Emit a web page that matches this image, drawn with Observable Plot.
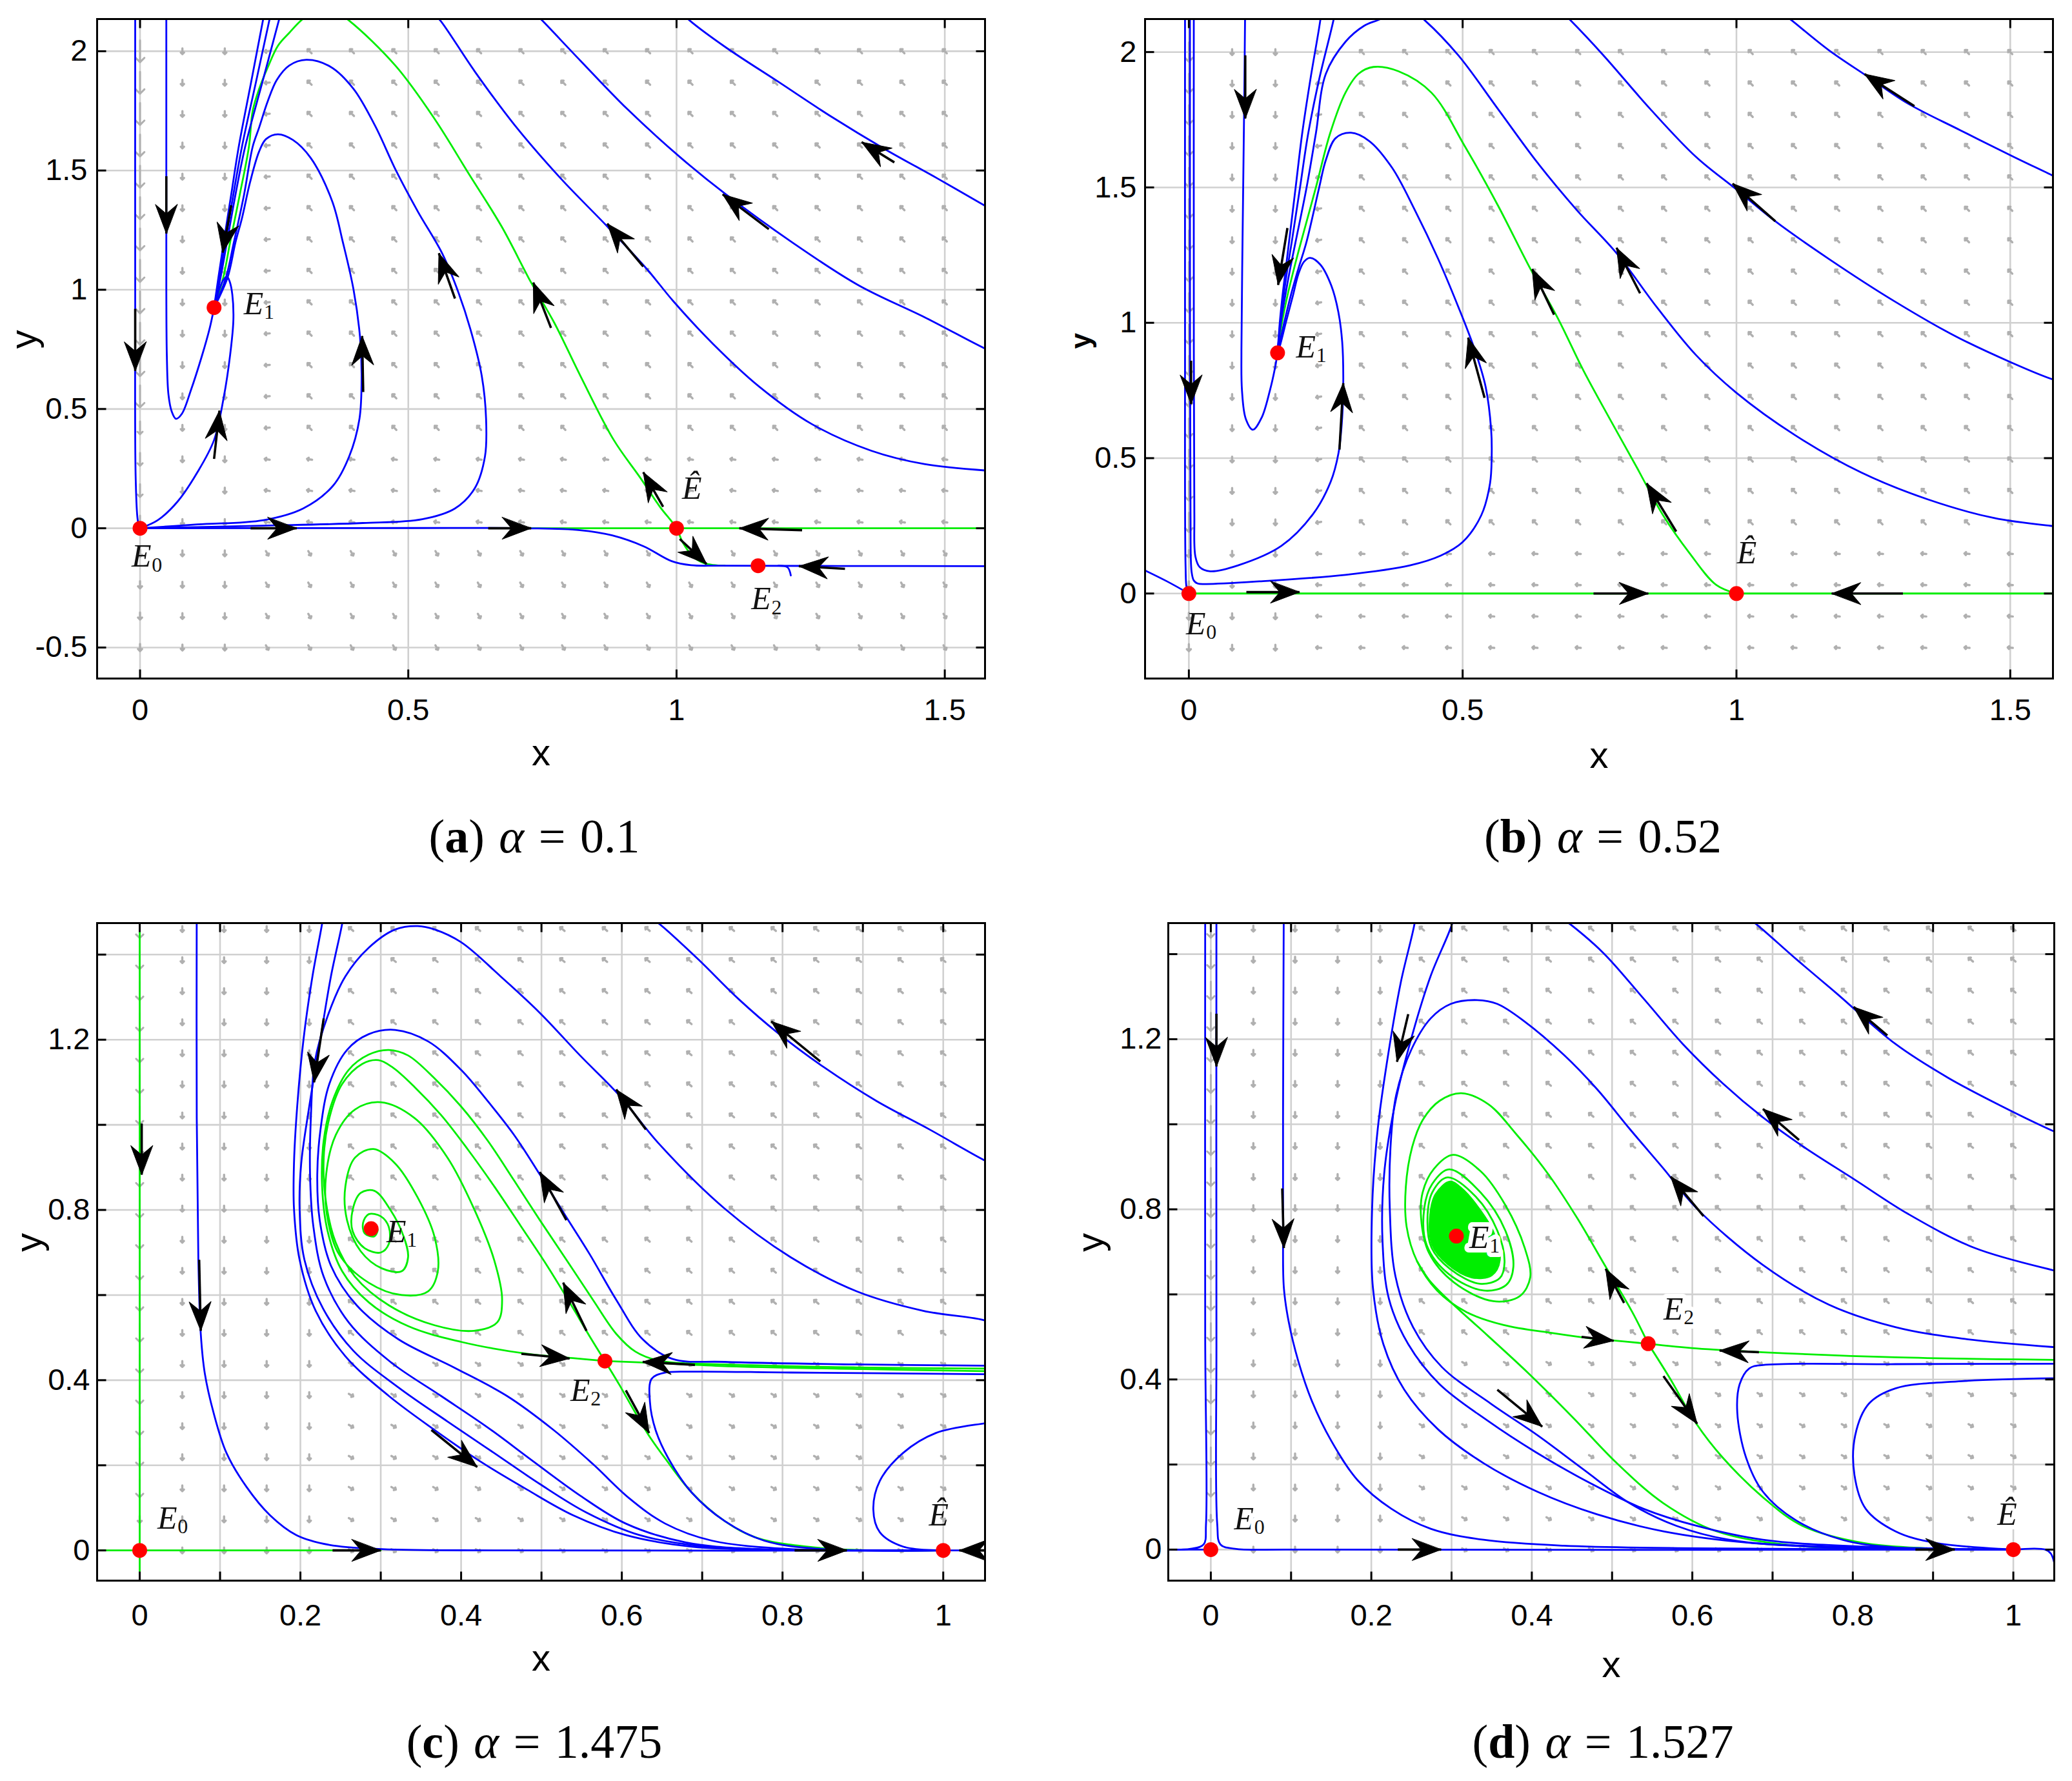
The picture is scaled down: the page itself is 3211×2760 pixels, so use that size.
<!DOCTYPE html>
<html><head><meta charset="utf-8">
<script src="https://cdn.jsdelivr.net/npm/d3@7"></script>
<script src="https://cdn.jsdelivr.net/npm/@observablehq/plot@0.6"></script>
<style>
html,body{margin:0;padding:0;background:#fff}
body{width:3211px;height:2760px;position:relative;overflow:hidden}
.panel{position:absolute}
.cap{position:absolute;width:1000px;text-align:center;font-family:"Liberation Serif","Times New Roman",serif;font-size:74px;line-height:80px;color:#000;white-space:nowrap;word-spacing:4px}
</style></head><body>
<div id="pa" class="panel" style="left:0;top:0"></div>
<div id="pb" class="panel" style="left:1605px;top:0"></div>
<div id="pc" class="panel" style="left:0;top:1380px"></div>
<div id="pd" class="panel" style="left:1605px;top:1380px"></div>
<div class="cap" style="left:328px;top:1256px">(<b>a</b>) <i>α</i> = 0.1</div>
<div class="cap" style="left:1984px;top:1256px">(<b>b</b>) <i>α</i> = 0.52</div>
<div class="cap" style="left:328px;top:2659px">(<b>c</b>) <i>α</i> = 1.475</div>
<div class="cap" style="left:1984px;top:2659px">(<b>d</b>) <i>α</i> = 1.527</div>
<script>
// ---------- Panel (a): alpha = 0.1 ----------
const A_xTicks = [0, 0.5, 1, 1.5];
const A_yTicks = [-0.5, 0, 0.5, 1, 1.5, 2];
const A_fieldX = [0,0.079,0.158,0.237,0.316,0.395,0.474,0.553,0.632,0.711,0.789,0.868,0.947,1.026,1.105,1.184,1.263,1.342,1.421,1.5];
const A_fieldY = [-0.5,-0.368,-0.237,-0.105,0.026,0.158,0.289,0.421,0.553,0.684,0.816,0.947,1.079,1.211,1.342,1.474,1.605,1.737,1.868,2.0];
// zones: [x0,x1,y0,y1,screen angle (deg), glyph length]
const A_zones = [[-1,0.04,0.55,9,180,34],[-1,0.04,0,0.55,180,20],[-1,0.04,-9,0,180,11],[-1,0.2,-9,9,180,9],[-9,9,-9,0,150,8],[-9,9,0,0.35,-80,8],[-9,0.27,-9,9,-95,8],[-9,9,-9,9,-45,9]];
const A_blue = [
  [[-0.009,2.2],[-0.009,1.0],[-0.008,0.2],[-0.004,0.03],[0,0]],
  [[0.049,2.2],[0.049,1.5],[0.049,1.0],[0.05,0.72],[0.053,0.56],[0.059,0.49],[0.067,0.459],[0.078,0.48],[0.095,0.58],[0.115,0.72],[0.13,0.84],[0.138,0.925]],
  [[0,0],[0.033,0.034],[0.070,0.112],[0.107,0.235],[0.138,0.370],[0.156,0.549],[0.168,0.728],[0.174,0.874],[0.172,0.98],[0.167,1.035],[0.162,1.055],[0.155,1.04],[0.146,0.99],[0.138,0.925]],
  [[0.235,2.2],[0.230,2.14],[0.207,1.87],[0.184,1.6],[0.170,1.4],[0.156,1.2],[0.146,1.05],[0.138,0.925]],
  [[0.248,2.2],[0.242,2.14],[0.216,1.87],[0.190,1.6],[0.174,1.4],[0.159,1.2],[0.148,1.05],[0.138,0.925]],
  [[0.267,2.2],[0.260,2.14],[0.228,1.87],[0.196,1.6],[0.178,1.4],[0.162,1.2],[0.150,1.05],[0.138,0.925]],
  [[0,0],[0.107,0.016],[0.230,0.034],[0.304,0.083],[0.360,0.179],[0.390,0.302],[0.409,0.459],[0.413,0.638],[0.410,0.802],[0.398,1.0],[0.378,1.2],[0.358,1.372],[0.318,1.553],[0.285,1.628],[0.257,1.652],[0.235,1.632],[0.222,1.58],[0.205,1.45],[0.19,1.3],[0.178,1.2],[0.163,1.05],[0.138,0.925]],
  [[0,0],[0.230,0.011],[0.415,0.022],[0.526,0.038],[0.587,0.083],[0.624,0.168],[0.643,0.302],[0.645,0.459],[0.637,0.638],[0.618,0.817],[0.594,0.985],[0.563,1.153],[0.518,1.327],[0.477,1.5],[0.438,1.688],[0.398,1.842],[0.355,1.935],[0.310,1.964],[0.278,1.94],[0.255,1.88],[0.238,1.79],[0.222,1.68],[0.21,1.6],[0.194,1.4],[0.175,1.2],[0.16,1.05],[0.138,0.925]],
  [[0,0],[0.5,0.001],[0.72,0],[0.82,-0.008],[0.88,-0.03],[0.939,-0.076],[0.991,-0.138],[1.027,-0.155],[1.08,-0.157],[1.3,-0.158],[1.6,-0.159]],
  [[1.19,-0.157],[1.207,-0.164],[1.213,-0.198]],
  [[0.55,2.15],[0.560,2.128],[0.624,1.915],[0.698,1.691],[0.784,1.467],[0.871,1.265],[0.945,1.086],[0.994,0.952],[1.068,0.773],[1.154,0.594],[1.252,0.437],[1.363,0.325],[1.462,0.269],[1.578,0.242],[1.6,0.24]],
  [[0.74,2.15],[0.750,2.128],[0.821,1.960],[0.908,1.758],[1.006,1.557],[1.092,1.400],[1.216,1.198],[1.339,1.019],[1.462,0.885],[1.578,0.750],[1.6,0.73]],
  [[1.01,2.16],[1.025,2.128],[1.092,2.016],[1.191,1.870],[1.289,1.725],[1.388,1.590],[1.486,1.467],[1.578,1.348],[1.6,1.32]]
];
const A_green = [
  [[0.72,0],[1.6,0]],
  [[0.138,0.925],[0.155,1.05],[0.168,1.2],[0.186,1.4],[0.203,1.6],[0.21,1.75],[0.222,1.842],[0.238,1.932],[0.257,2.023],[0.278,2.077],[0.306,2.14],[0.348,2.19],[0.390,2.128],[0.477,1.937],[0.550,1.713],[0.612,1.489],[0.674,1.265],[0.729,1.030],[0.772,0.862],[0.821,0.638],[0.883,0.370],[0.932,0.213],[0.969,0.090],[1.0,0],[1.011,-0.057],[1.031,-0.119],[1.051,-0.146],[1.069,-0.154],[1.09,-0.157]]
];
const A_arrows = [
  [-0.009,0.92,-0.009,0.66],[0.049,1.476,0.049,1.236],[0.170,1.354,0.154,1.156],[0.138,0.291,0.148,0.493],
  [0.416,0.571,0.414,0.806],[0.587,0.963,0.557,1.153],[0.766,0.840,0.733,1.030],[0.975,0.090,0.938,0.235],
  [1.006,-0.045,1.056,-0.150],[0.206,0,0.292,0],[0.649,0,0.729,0],[1.234,-0.008,1.117,0],
  [1.314,-0.170,1.228,-0.159],[0.938,1.097,0.871,1.277],[1.172,1.254,1.086,1.400],[1.406,1.534,1.345,1.619]
];
const A_eq = [[0,0],[0.138,0.925],[1,0],[1.152,-0.157]];
const A_labels = [{t:"E",s:"1",x:0.22,y:0.94},{t:"E",s:"0",x:0.011,y:-0.118},{t:"Ê",s:"",x:1.037,y:0.168},{t:"E",s:"2",x:1.166,y:-0.297}];

// ---------- Panel (b): alpha = 0.52 ----------
const B_xTicks = [0, 0.5, 1, 1.5];
const B_yTicks = [0, 0.5, 1, 1.5, 2];
const B_fieldX = [0,0.079,0.158,0.237,0.316,0.395,0.474,0.553,0.632,0.711,0.789,0.868,0.947,1.026,1.105,1.184,1.263,1.342,1.421,1.5];
const B_fieldY = [-0.2,-0.084,0.032,0.147,0.263,0.379,0.495,0.611,0.726,0.842,0.958,1.074,1.189,1.305,1.421,1.537,1.653,1.768,1.884,2.0];
const B_zones = [[-1,0.04,0.15,9,180,30],[-1,0.04,-9,0.15,180,11],[-1,0.2,-9,9,180,9],[-9,9,-9,0.25,-85,8],[-9,0.27,-9,9,-100,8],[-9,9,-9,9,-45,9]];
const B_blue = [
  [[-0.085,0.09],[-0.04,0.045],[0,0]],
  [[-0.007,2.2],[-0.007,1.0],[-0.006,0.1],[-0.004,0.02],[0,0]],
  [[0.002,2.2],[0.002,1.2],[0.003,0.3],[0.005,0.08],[0.009,0.048],[0.016,0.037],[0.031,0.035],[0.129,0.045],[0.286,0.069],[0.404,0.104],[0.46,0.14],[0.50,0.19],[0.534,0.289],[0.550,0.407],[0.553,0.506],[0.552,0.605],[0.542,0.763],[0.522,0.901],[0.492,1.059],[0.455,1.237],[0.413,1.415],[0.371,1.573],[0.329,1.672],[0.296,1.702],[0.268,1.682],[0.25,1.6],[0.238,1.5],[0.215,1.3],[0.2,1.2],[0.186,1.1],[0.174,1.0],[0.162,0.889]],
  [[0.009,2.2],[0.009,1.2],[0.010,0.3],[0.012,0.136],[0.020,0.097],[0.039,0.082],[0.090,0.104],[0.169,0.176],[0.227,0.294],[0.259,0.413],[0.273,0.516],[0.280,0.65],[0.282,0.80],[0.280,0.93],[0.273,1.040],[0.260,1.138],[0.240,1.215],[0.221,1.240],[0.210,1.225],[0.200,1.18],[0.190,1.1],[0.177,1.0],[0.167,0.92],[0.162,0.889]],
  [[0.103,2.2],[0.101,1.8],[0.098,1.3],[0.096,0.9],[0.097,0.75],[0.104,0.645],[0.117,0.605],[0.133,0.65],[0.148,0.75],[0.157,0.83],[0.162,0.889]],
  [[0.245,2.2],[0.240,2.117],[0.222,1.9],[0.207,1.7],[0.195,1.5],[0.183,1.3],[0.177,1.2],[0.171,1.1],[0.166,1.0],[0.162,0.889]],
  [[0.272,2.2],[0.264,2.117],[0.238,1.9],[0.218,1.7],[0.203,1.5],[0.188,1.3],[0.180,1.2],[0.173,1.1],[0.167,1.0],[0.162,0.889]],
  [[0.37,2.14],[0.345,2.118],[0.320,2.097],[0.286,2.038],[0.250,1.919],[0.232,1.7],[0.215,1.5],[0.195,1.3],[0.185,1.2],[0.176,1.1],[0.168,1.0],[0.162,0.889]],
  [[0.41,2.15],[0.431,2.117],[0.492,1.988],[0.564,1.791],[0.636,1.593],[0.709,1.415],[0.781,1.257],[0.854,1.059],[0.926,0.881],[0.999,0.743],[1.107,0.585],[1.228,0.447],[1.349,0.348],[1.470,0.279],[1.578,0.249],[1.6,0.245]],
  [[0.68,2.15],[0.697,2.117],[0.757,1.988],[0.842,1.791],[0.926,1.613],[0.999,1.494],[1.071,1.375],[1.168,1.237],[1.289,1.079],[1.409,0.941],[1.576,0.792],[1.6,0.78]],
  [[1.08,2.15],[1.101,2.117],[1.168,2.008],[1.240,1.909],[1.313,1.810],[1.409,1.711],[1.506,1.613],[1.578,1.543],[1.6,1.52]]
];
const B_green = [
  [[0,0],[1.6,0]],
  [[0.162,0.889],[0.170,1.0],[0.180,1.1],[0.192,1.2],[0.205,1.3],[0.232,1.5],[0.258,1.7],[0.286,1.85],[0.310,1.92],[0.337,1.945],[0.383,1.929],[0.443,1.850],[0.504,1.652],[0.564,1.435],[0.624,1.198],[0.673,1.020],[0.721,0.822],[0.769,0.644],[0.818,0.466],[0.866,0.289],[0.914,0.150],[0.963,0.032],[1.0,0]]
];
const B_arrows = [
  [0.004,0.86,0.004,0.70],[0.103,1.988,0.103,1.755],[0.18,1.35,0.163,1.14],[0.275,0.532,0.282,0.777],
  [0.540,0.723,0.510,0.945],[0.667,1.030,0.627,1.198],[0.890,0.229,0.836,0.407],[0.105,0.005,0.202,0.005],
  [0.739,0,0.839,0],[1.304,0,1.174,0],[0.824,1.109,0.781,1.277],[1.071,1.375,0.993,1.514],[1.325,1.800,1.234,1.919]
];
const B_eq = [[0,0],[0.162,0.889],[1,0]];
const B_labels = [{t:"E",s:"1",x:0.222,y:0.911},{t:"E",s:"0",x:0.021,y:-0.112},{t:"Ê",s:"",x:1.027,y:0.15}];

// ---------- Panel (c): alpha = 1.475 ----------
const C_xTicks = [0, 0.2, 0.4, 0.6, 0.8, 1];
const C_yTicks = [0, 0.4, 0.8, 1.2];
const C_gridX = [0,0.1,0.2,0.3,0.4,0.5,0.6,0.7,0.8,0.9,1.0];
const C_gridY = [0,0.2,0.4,0.6,0.8,1.0,1.2,1.4];
const C_fieldX = [0,0.053,0.105,0.158,0.211,0.263,0.316,0.368,0.421,0.474,0.526,0.579,0.632,0.684,0.737,0.789,0.842,0.895,0.947,1.0];
const C_fieldY = [0,0.073,0.146,0.219,0.292,0.365,0.438,0.511,0.584,0.657,0.730,0.803,0.876,0.949,1.022,1.095,1.168,1.241,1.314,1.387,1.46];
const C_zones = [[-1,0.03,0.1,9,180,28],[-1,0.03,-9,0.1,180,11],[-1,0.23,-9,9,180,9],[-9,9,-9,0.45,120,8],[-9,9,-9,9,-50,9]];
const C_blue = [
  [[0.071,1.55],[0.071,1.016],[0.073,0.683],[0.076,0.509],[0.081,0.416],[0.092,0.323],[0.108,0.229],[0.133,0.149],[0.162,0.083],[0.195,0.036],[0.236,0.013],[0.301,0.003],[0.45,0],[1.06,0]],
  [[0.229,1.5],[0.227,1.473],[0.215,1.349],[0.204,1.203],[0.196,1.043],[0.192,0.909],[0.192,0.803],[0.199,0.683],[0.219,0.563],[0.256,0.456],[0.310,0.363],[0.367,0.283],[0.424,0.209],[0.482,0.143],[0.539,0.083],[0.605,0.036],[0.687,0.009],[0.810,0.001],[1.0,0]],
  [[0.254,1.5],[0.252,1.473],[0.238,1.349],[0.225,1.203],[0.211,1.043],[0.201,0.909],[0.199,0.803],[0.205,0.683],[0.228,0.569],[0.266,0.469],[0.322,0.383],[0.383,0.303],[0.441,0.229],[0.498,0.156],[0.556,0.089],[0.622,0.036],[0.704,0.009],[0.827,0.001],[1.0,0]],
  [[1.06,0.53],[1.052,0.54],[0.975,0.563],[0.892,0.609],[0.810,0.689],[0.728,0.803],[0.646,0.956],[0.597,1.069],[0.548,1.163],[0.498,1.263],[0.449,1.349],[0.400,1.429],[0.367,1.459],[0.346,1.467],[0.318,1.459],[0.285,1.416],[0.256,1.349],[0.234,1.256],[0.218,1.149],[0.213,1.016],[0.212,0.883],[0.216,0.763],[0.229,0.643],[0.26,0.536],[0.312,0.443],[0.375,0.363],[0.433,0.289],[0.490,0.209],[0.548,0.129],[0.605,0.063],[0.679,0.019],[0.769,0.003],[0.9,0],[1.0,0]],
  [[1.06,0.434],[0.892,0.437],[0.728,0.443],[0.663,0.450],[0.626,0.496],[0.593,0.589],[0.560,0.696],[0.531,0.783],[0.498,0.883],[0.466,0.976],[0.433,1.056],[0.400,1.129],[0.359,1.196],[0.318,1.223],[0.285,1.213],[0.258,1.176],[0.236,1.096],[0.225,0.989],[0.221,0.883],[0.224,0.776],[0.238,0.669],[0.27,0.576],[0.322,0.496],[0.392,0.429],[0.457,0.363],[0.515,0.283],[0.564,0.203],[0.609,0.123],[0.654,0.063],[0.712,0.023],[0.810,0.003],[0.9,0],[1.0,0]],
  [[1.06,0.414],[0.810,0.418],[0.687,0.420],[0.652,0.417],[0.637,0.403],[0.635,0.349],[0.642,0.283],[0.658,0.216],[0.687,0.136],[0.728,0.069],[0.777,0.023],[0.851,0.003],[1.0,0]],
  [[1.06,0.302],[1.052,0.299],[0.991,0.276],[0.950,0.229],[0.921,0.163],[0.913,0.096],[0.921,0.043],[0.950,0.009],[1.0,0]],
  [[0.64,1.48],[0.646,1.473],[0.695,1.389],[0.745,1.296],[0.794,1.216],[0.851,1.136],[0.917,1.056],[0.983,0.989],[1.052,0.916],[1.06,0.91]]
];
const C_green = [
  [[0,-0.1],[0,1.6]],
  [[-0.06,0],[0.3,0]],
  [[1.06,0.421],[0.9,0.426],[0.728,0.433],[0.646,0.440],[0.579,0.445]],
  [[1.06,0.427],[0.892,0.430],[0.728,0.437],[0.646,0.446],[0.617,0.467],[0.593,0.509],[0.564,0.589],[0.531,0.683],[0.498,0.776],[0.466,0.869],[0.433,0.963],[0.400,1.043],[0.367,1.109],[0.334,1.163],[0.310,1.176],[0.285,1.165],[0.260,1.129],[0.240,1.056],[0.229,0.963],[0.227,0.856],[0.234,0.749],[0.252,0.656],[0.285,0.583],[0.334,0.527],[0.400,0.490],[0.482,0.462],[0.539,0.452],[0.579,0.445]],
  [[0.579,0.445],[0.560,0.503],[0.535,0.583],[0.507,0.669],[0.474,0.763],[0.441,0.856],[0.408,0.943],[0.375,1.023],[0.342,1.089],[0.314,1.136],[0.297,1.152],[0.277,1.143],[0.252,1.096],[0.236,1.016],[0.229,0.923],[0.232,0.816],[0.244,0.723],[0.268,0.643],[0.310,0.576],[0.367,0.529],[0.416,0.516],[0.445,0.536],[0.451,0.589],[0.441,0.683],[0.416,0.803],[0.383,0.923],[0.342,1.016],[0.300,1.053],[0.268,1.036],[0.244,0.976],[0.232,0.883],[0.233,0.789],[0.248,0.696],[0.285,0.629],[0.326,0.600],[0.359,0.609],[0.371,0.656],[0.367,0.736],[0.346,0.829],[0.318,0.909],[0.291,0.943],[0.268,0.923],[0.256,0.856],[0.258,0.776],[0.275,0.703],[0.301,0.663],[0.326,0.656],[0.334,0.689],[0.328,0.74],[0.312,0.80],[0.292,0.845],[0.275,0.84],[0.265,0.80],[0.265,0.75],[0.28,0.71],[0.30,0.70],[0.31,0.72],[0.31,0.76],[0.30,0.785],[0.285,0.79],[0.278,0.77],[0.28,0.745],[0.292,0.738],[0.296,0.755],[0.289,0.756]],
  [[0.579,0.445],[0.597,0.389],[0.613,0.336],[0.634,0.269],[0.654,0.216],[0.687,0.136],[0.728,0.069],[0.769,0.029],[0.851,0.005],[0.933,0],[1.0,0]]
];
const C_arrows = [
  [0.0025,1.003,0.0025,0.883],[0.074,0.683,0.076,0.516],[0.229,1.25,0.217,1.10],[0.531,0.776,0.498,0.889],
  [0.630,0.989,0.593,1.083],[0.847,1.149,0.786,1.243],[0.363,0.283,0.420,0.196],[0.475,0.462,0.535,0.451],
  [0.691,0.436,0.626,0.443],[0.556,0.516,0.527,0.629],[0.605,0.376,0.634,0.276],[0.240,0,0.300,0],
  [0.815,0,0.880,0],[1.075,0,1.02,0]
];
const C_eq = [[0,0],[0.288,0.756],[0.579,0.445],[1,0]];
const C_labels = [{t:"E",s:"0",x:0.040,y:0.076},{t:"E",s:"1",x:0.325,y:0.749},{t:"E",s:"2",x:0.554,y:0.376},{t:"Ê",s:"",x:1.0,y:0.083}];

// ---------- Panel (d): alpha = 1.527 ----------
const D_xTicks = [0, 0.2, 0.4, 0.6, 0.8, 1];
const D_yTicks = [0, 0.4, 0.8, 1.2];
const D_gridX = [0,0.1,0.2,0.3,0.4,0.5,0.6,0.7,0.8,0.9,1.0];
const D_gridY = [0,0.2,0.4,0.6,0.8,1.0,1.2,1.4];
const D_fieldX = [0,0.053,0.105,0.158,0.211,0.263,0.316,0.368,0.421,0.474,0.526,0.579,0.632,0.684,0.737,0.789,0.842,0.895,0.947,1.0];
const D_fieldY = [0,0.073,0.146,0.219,0.292,0.365,0.438,0.511,0.584,0.657,0.730,0.803,0.876,0.949,1.022,1.095,1.168,1.241,1.314,1.387,1.46];
const D_zones = [[-1,0.03,0.1,9,180,28],[-1,0.03,-9,0.1,180,11],[-1,0.23,-9,9,180,9],[-9,9,-9,0.45,120,8],[-9,9,-9,9,-50,9]];
const D_blue = [
  [[-0.007,1.55],[-0.007,0.5],[-0.006,0.06],[-0.009,0.012],[-0.025,0.002],[-0.06,0]],
  [[0.007,1.55],[0.007,0.5],[0.008,0.06],[0.012,0.012],[0.03,0.002],[0.1,0],[1.0,0]],
  [[0.091,1.55],[0.090,1.016],[0.090,0.749],[0.091,0.616],[0.097,0.536],[0.109,0.443],[0.126,0.349],[0.150,0.256],[0.183,0.163],[0.225,0.096],[0.274,0.049],[0.340,0.023],[0.440,0.009],[0.605,0.003],[1.0,0]],
  [[0.257,1.52],[0.254,1.473],[0.237,1.336],[0.222,1.176],[0.208,0.989],[0.201,0.803],[0.202,0.616],[0.215,0.483],[0.241,0.376],[0.283,0.283],[0.340,0.203],[0.407,0.136],[0.481,0.083],[0.564,0.043],[0.671,0.016],[0.812,0.005],[1.0,0]],
  [[0.306,1.52],[0.301,1.473],[0.274,1.349],[0.250,1.203],[0.229,1.043],[0.216,0.883],[0.214,0.723],[0.222,0.589],[0.246,0.483],[0.285,0.389],[0.345,0.303],[0.405,0.229],[0.473,0.156],[0.539,0.096],[0.605,0.056],[0.688,0.023],[0.812,0.007],[1.0,0]],
  [[1.06,0.475],[1.051,0.476],[0.936,0.496],[0.853,0.523],[0.770,0.576],[0.688,0.669],[0.605,0.803],[0.564,0.896],[0.522,0.989],[0.481,1.083],[0.440,1.163],[0.390,1.243],[0.357,1.283],[0.332,1.292],[0.299,1.283],[0.274,1.249],[0.250,1.176],[0.231,1.069],[0.224,0.949],[0.223,0.803],[0.230,0.643],[0.252,0.523],[0.288,0.429],[0.349,0.343],[0.407,0.269],[0.464,0.189],[0.522,0.109],[0.580,0.056],[0.646,0.023],[0.770,0.005],[1.0,0]],
  [[0.44,1.48],[0.446,1.473],[0.489,1.403],[0.539,1.296],[0.588,1.189],[0.638,1.096],[0.688,1.016],[0.737,0.949],[0.803,0.869],[0.869,0.789],[0.952,0.709],[1.051,0.656],[1.06,0.652]],
  [[0.672,1.48],[0.678,1.473],[0.729,1.389],[0.779,1.309],[0.853,1.189],[0.919,1.109],[0.985,1.043],[1.051,0.983],[1.06,0.976]],
  [[1.06,0.437],[0.853,0.436],[0.688,0.434],[0.671,0.426],[0.659,0.389],[0.656,0.323],[0.667,0.216],[0.688,0.136],[0.729,0.069],[0.787,0.023],[0.853,0.005],[1.0,0]],
  [[1.06,0.403],[0.936,0.396],[0.853,0.379],[0.820,0.343],[0.803,0.269],[0.802,0.176],[0.816,0.096],[0.853,0.043],[0.902,0.016],[1.0,0]],
  [[1.0,0],[1.04,0],[1.047,-0.01],[1.052,-0.04]],
  [[-0.06,0],[0,0]]
];
const D_green = [
  [[1.06,0.446],[0.853,0.452],[0.688,0.464],[0.605,0.473],[0.545,0.484]],
  [[0.545,0.484],[0.525,0.559],[0.488,0.678],[0.457,0.778],[0.420,0.884],[0.380,0.978],[0.346,1.047],[0.312,1.073],[0.285,1.055],[0.264,1.010],[0.251,0.947],[0.243,0.853],[0.244,0.759],[0.257,0.678],[0.282,0.609],[0.318,0.559],[0.365,0.528],[0.426,0.509],[0.472,0.497],[0.5,0.492],[0.545,0.484]],
  [[0.545,0.484],[0.572,0.403],[0.605,0.296],[0.638,0.216],[0.688,0.123],[0.737,0.056],[0.812,0.016],[0.894,0.003],[1.0,0]],
  [[0.257,0.678],[0.272,0.634],[0.30,0.58],[0.334,0.522],[0.395,0.416],[0.451,0.311],[0.506,0.203],[0.564,0.109],[0.630,0.043],[0.729,0.009],[0.853,0.002],[1.0,0]]
];
const D_loops = [
  [[0.302,0.928],[0.278,0.895],[0.264,0.84],[0.262,0.78],[0.272,0.697],[0.303,0.628],[0.352,0.584],[0.385,0.596],[0.398,0.640],[0.391,0.71],[0.367,0.81],[0.336,0.89]],
  [[0.297,0.894],[0.276,0.86],[0.266,0.803],[0.269,0.716],[0.297,0.647],[0.340,0.609],[0.368,0.622],[0.377,0.665],[0.367,0.750],[0.336,0.840]],
  [[0.295,0.875],[0.276,0.84],[0.270,0.78],[0.275,0.71],[0.298,0.66],[0.335,0.625],[0.360,0.638],[0.366,0.675],[0.357,0.75],[0.33,0.83]]
];
const D_core = [[0.298,0.865],[0.280,0.835],[0.273,0.778],[0.276,0.716],[0.296,0.670],[0.325,0.640],[0.350,0.645],[0.360,0.680],[0.352,0.747],[0.331,0.810],[0.312,0.850]];
const D_arrows = [
  [0.007,1.26,0.007,1.136],[0.089,0.849,0.091,0.709],[0.246,1.259,0.232,1.147],[0.357,0.376,0.413,0.289],
  [0.733,0.963,0.688,1.036],[0.843,1.209,0.801,1.276],[0.614,0.784,0.573,0.877],[0.683,0.464,0.634,0.468],
  [0.462,0.500,0.502,0.491],[0.515,0.58,0.492,0.66],[0.564,0.408,0.606,0.296],[0.233,0,0.287,0],[0.878,0,0.927,0]
];
const D_eq = [[0,0],[0.306,0.737],[0.545,0.484],[1,0]];
const D_labels = [{t:"E",s:"0",x:0.047,y:0.072},{t:"E",s:"1",x:0.340,y:0.733},{t:"E",s:"2",x:0.582,y:0.565},{t:"Ê",s:"",x:0.998,y:0.083}];

// ---------- drawing ----------
const SANS = "Liberation Sans, Arial, sans-serif";
const SERIF = "Liberation Serif, Times New Roman, serif";
const BLUE = "#0000ff", GREEN = "#00ee00", RED = "#ff0000";
const STEALTH = {draw(ctx, l) { ctx.moveTo(0, -l); ctx.lineTo(17, 0); ctx.lineTo(0, -l * 0.32); ctx.lineTo(-17, 0); ctx.closePath(); }};

function makePanel(P) {
  const [W, H] = P.size;
  const [ml, mr, mt, mb] = P.margins;
  const kx = (W - ml - mr) / (P.xd[1] - P.xd[0]);
  const ky = (H - mt - mb) / (P.yd[1] - P.yd[0]);
  const rows = cs => cs.flatMap((c, i) => c.map(p => ({x: p[0], y: p[1], id: i})));
  const arr = P.arrows.map(a => ({x1: a[0], y1: a[1], x2: a[2], y2: a[3],
    r: Math.atan2((a[2] - a[0]) * kx, (a[3] - a[1]) * ky) * 180 / Math.PI}));
  const field = [];
  for (const fx of P.fieldX) for (const fy of P.fieldY) {
    const z = P.zones.find(z => fx >= z[0] && fx < z[1] && fy >= z[2] && fy < z[3]);
    field.push({x: fx, y: fy, a: z[4], l: z[5]});
  }
  const lens = [...new Set(field.map(d => d.l))];
  const t = 14;
  const tickLinks = [
    ...P.gridX.map(v => ({x1: v, x2: v, y1: P.yd[0], y2: P.yd[0] + t / ky})),
    ...P.gridX.map(v => ({x1: v, x2: v, y1: P.yd[1], y2: P.yd[1] - t / ky})),
    ...P.gridY.map(v => ({y1: v, y2: v, x1: P.xd[0], x2: P.xd[0] + t / kx})),
    ...P.gridY.map(v => ({y1: v, y2: v, x1: P.xd[1], x2: P.xd[1] - t / kx}))
  ];
  const halo = P.halo ? {stroke: "white", strokeWidth: 14} : {};
  const marks = [
    Plot.ruleX(P.gridX, {stroke: "#d0d0d0", strokeWidth: 2.6}),
    Plot.ruleY(P.gridY, {stroke: "#d0d0d0", strokeWidth: 2.6}),
    ...lens.map(L => Plot.vector(field.filter(d => d.l === L), {x: "x", y: "y", rotate: "a", length: L, r: L > 15 ? 3.5 : 5, stroke: "#b0b0b0", strokeWidth: L > 15 ? 3 : 3.4, anchor: "middle", clip: true})),
    Plot.line(rows(P.green), {x: "x", y: "y", z: "id", stroke: GREEN, strokeWidth: 2.8, curve: "catmull-rom", clip: true})
  ];
  if (P.loops) marks.push(Plot.line(rows(P.loops), {x: "x", y: "y", z: "id", stroke: GREEN, strokeWidth: 2.8, curve: "catmull-rom-closed", clip: true}));
  if (P.core) marks.push(Plot.line(rows([P.core]), {x: "x", y: "y", z: "id", stroke: GREEN, fill: GREEN, strokeWidth: 2.8, curve: "catmull-rom-closed", clip: true}));
  marks.push(
    Plot.line(rows(P.blue), {x: "x", y: "y", z: "id", stroke: BLUE, strokeWidth: 2.8, curve: "catmull-rom", clip: true}),
    Plot.link(arr, {x1: "x1", y1: "y1", x2: "x2", y2: "y2", stroke: "black", strokeWidth: 3.6, clip: true}),
    Plot.vector(arr, {x: "x2", y: "y2", rotate: "r", length: 45, anchor: "end", shape: STEALTH, fill: "black", stroke: "black", strokeWidth: 1, clip: true}),
    Plot.dot(P.eq, {x: d => d[0], y: d => d[1], r: 11.5, fill: RED, stroke: "none"}),
    Plot.text(P.labels, Object.assign({x: "x", y: "y", text: "t", dx: d => 0, fontFamily: SERIF, fontStyle: "italic", fontSize: 50, fill: "#111"}, halo, {dx: -7})),
    Plot.text(P.labels.filter(d => d.s), Object.assign({x: "x", y: "y", text: "s", fontFamily: SERIF, fontSize: 32, fill: "#111"}, halo, {dx: 17, dy: 13})),
    Plot.frame({stroke: "black", strokeWidth: 3}),
    Plot.link(tickLinks, {x1: "x1", y1: "y1", x2: "x2", y2: "y2", stroke: "black", strokeWidth: 3}),
    Plot.text(P.xTicks, {x: d => d, frameAnchor: "bottom", dy: P.xLabDy, text: d => String(d), fontFamily: SANS, fontSize: 47, fill: "black", lineAnchor: "middle"}),
    Plot.text(P.yTicks, {y: d => d, frameAnchor: "left", dx: P.yLabDx, textAnchor: "end", text: d => String(d), fontFamily: SANS, fontSize: 47, fill: "black", lineAnchor: "middle"}),
    Plot.text(["x"], {frameAnchor: "bottom", dy: P.xTitleDy, text: d => d, fontFamily: SANS, fontSize: 58, fill: "black", lineAnchor: "middle"}),
    Plot.text(["y"], {frameAnchor: "left", dx: P.yTitleDx, rotate: -90, text: d => d, fontFamily: SANS, fontSize: P.ySize || 58, fontWeight: P.yBold ? "bold" : "normal", fill: "black", lineAnchor: "middle"})
  );
  return Plot.plot({
    width: W, height: H, marginLeft: ml, marginRight: mr, marginTop: mt, marginBottom: mb,
    x: {domain: P.xd, axis: null}, y: {domain: P.yd, axis: null},
    style: {background: "transparent", overflow: "visible", fontFamily: SANS},
    marks
  });
}

const panels = [
  {id: "pa", size: [1605, 1240], margins: [150, 79, 29, 189], xd: [-0.08, 1.575], yd: [-0.63, 2.135],
   gridX: A_xTicks, gridY: A_yTicks, xTicks: A_xTicks, yTicks: A_yTicks, fieldX: A_fieldX, fieldY: A_fieldY, zones: A_zones,
   blue: A_blue, green: A_green, arrows: A_arrows, eq: A_eq, labels: A_labels,
   xLabDy: 49, yLabDx: -15, xTitleDy: 116, yTitleDx: -113},
  {id: "pb", size: [1606, 1240], margins: [169, 30, 29, 189], xd: [-0.08, 1.578], yd: [-0.314, 2.122],
   gridX: B_xTicks, gridY: B_yTicks, xTicks: B_xTicks, yTicks: B_yTicks, fieldX: B_fieldX, fieldY: B_fieldY, zones: B_zones,
   blue: B_blue, green: B_green, arrows: B_arrows, eq: B_eq, labels: B_labels,
   xLabDy: 49, yLabDx: -13, xTitleDy: 120, yTitleDx: -99, ySize: 44, yBold: true},
  {id: "pc", size: [1605, 1240], margins: [150, 79, 50, 171], xd: [-0.053, 1.052], yd: [-0.071, 1.474],
   gridX: C_gridX, gridY: C_gridY, xTicks: C_xTicks, yTicks: C_yTicks, fieldX: C_fieldX, fieldY: C_fieldY, zones: C_zones,
   blue: C_blue, green: C_green, arrows: C_arrows, eq: C_eq, labels: C_labels,
   xLabDy: 54, yLabDx: -11, xTitleDy: 121, yTitleDx: -105},
  {id: "pd", size: [1606, 1240], margins: [205, 28, 50, 171], xd: [-0.053, 1.051], yd: [-0.073, 1.473],
   gridX: D_gridX, gridY: D_gridY, xTicks: D_xTicks, yTicks: D_yTicks, fieldX: D_fieldX, fieldY: D_fieldY, zones: D_zones,
   blue: D_blue, green: D_green, loops: D_loops, core: D_core, arrows: D_arrows, eq: D_eq, labels: D_labels, halo: true,
   xLabDy: 54, yLabDx: -10, xTitleDy: 131, yTitleDx: -120}
];
for (const P of panels) document.getElementById(P.id).appendChild(makePanel(P));
</script>
</body></html>
